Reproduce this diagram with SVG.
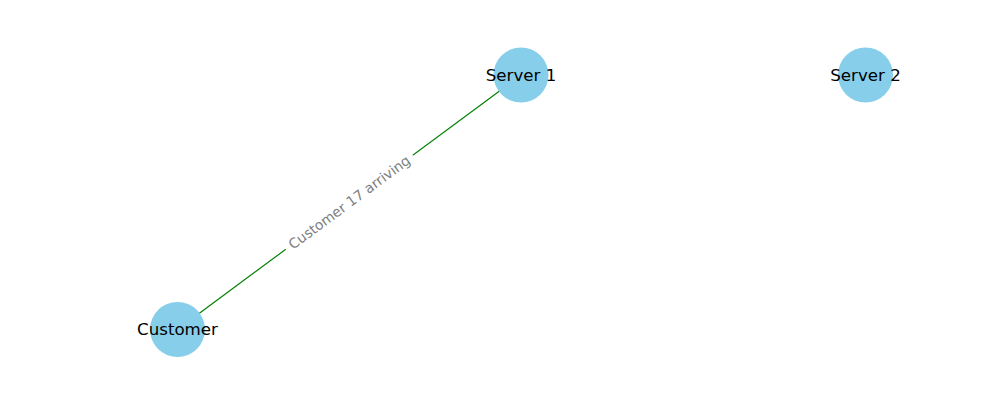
<svg xmlns="http://www.w3.org/2000/svg" width="1000" height="400" viewBox="0 0 1000 400">
<style>
.node{fill:#87CEEB;}
.nlabel{font-family:"DejaVu Sans",sans-serif;font-size:16.67px;fill:#000;text-anchor:middle;dominant-baseline:central;}
.elabel{font-family:"DejaVu Sans",sans-serif;font-size:13.9px;fill:#808080;text-anchor:middle;dominant-baseline:central;}
.edge{stroke:#008000;stroke-width:1.2;fill:none;}
</style>
<rect width="1000" height="400" fill="#ffffff"/>
<g id="connectors">
<line class="edge" x1="177.5" y1="329.5" x2="521" y2="75"/>
<g id="edge-label" transform="translate(349.25,202.25) rotate(-36.44)">
<rect x="-79" y="-10" width="158" height="20" fill="#ffffff"/>
<text class="elabel" x="0" y="0">Customer 17 arriving</text>
</g>
</g>
<g id="server1">
<circle class="node" cx="521" cy="75" r="27.5"/>
<text class="nlabel" x="521" y="75">Server 1</text>
</g>
<g id="server2">
<circle class="node" cx="865.5" cy="75" r="27.5"/>
<text class="nlabel" x="865.5" y="75">Server 2</text>
</g>
<g id="customer">
<circle class="node" cx="177.5" cy="329.5" r="27.5"/>
<text class="nlabel" x="177.5" y="329.5">Customer</text>
</g>
</svg>
